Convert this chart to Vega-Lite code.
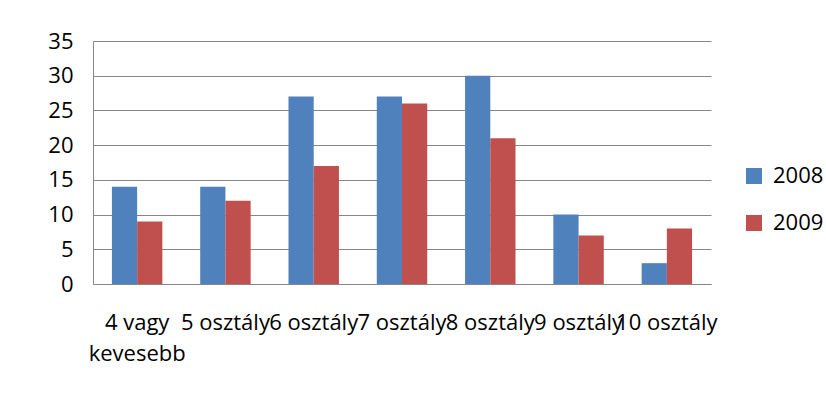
{
  "$schema": "https://vega.github.io/schema/vega-lite/v6.json",
  "autosize": "none",
  "width": 618,
  "height": 243,
  "padding": {"left": 93, "top": 41, "right": 115, "bottom": 128},
  "background": "white",
  "config": {
    "font": "Open Sans",
    "view": {"stroke": null},
    "axis": {"labelFont": "Open Sans", "labelFontSize": 22, "labelColor": "#000000"}
  },
  "data": {
    "values": [
      {"cat": "4 vagy kevesebb", "year": "2008", "value": 14},
      {"cat": "4 vagy kevesebb", "year": "2009", "value": 9},
      {"cat": "5 osztály", "year": "2008", "value": 14},
      {"cat": "5 osztály", "year": "2009", "value": 12},
      {"cat": "6 osztály", "year": "2008", "value": 27},
      {"cat": "6 osztály", "year": "2009", "value": 17},
      {"cat": "7 osztály", "year": "2008", "value": 27},
      {"cat": "7 osztály", "year": "2009", "value": 26},
      {"cat": "8 osztály", "year": "2008", "value": 30},
      {"cat": "8 osztály", "year": "2009", "value": 21},
      {"cat": "9 osztály", "year": "2008", "value": 10},
      {"cat": "9 osztály", "year": "2009", "value": 7},
      {"cat": "10 osztály", "year": "2008", "value": 3},
      {"cat": "10 osztály", "year": "2009", "value": 8}
    ]
  },
  "mark": {"type": "bar"},
  "encoding": {
    "x": {
      "field": "cat",
      "type": "nominal",
      "sort": null,
      "title": null,
      "scale": {"paddingInner": 0.4286, "paddingOuter": 0.2143},
      "axis": {
        "labelAngle": 0,
        "ticks": false,
        "domainColor": "#868686",
        "labelPadding": 28,
        "labelBaseline": "top",
        "labelLineHeight": 31,
        "labelOverlap": false,
        "labelBound": false,
        "labelExpr": "datum.value == '4 vagy kevesebb' ? ['4 vagy', 'kevesebb'] : datum.value"
      }
    },
    "xOffset": {"field": "year", "type": "nominal"},
    "y": {
      "field": "value",
      "type": "quantitative",
      "title": null,
      "scale": {"domain": [0, 35], "nice": false},
      "axis": {
        "values": [0, 5, 10, 15, 20, 25, 30, 35],
        "ticks": false,
        "domainColor": "#868686",
        "gridColor": "#868686",
        "labelPadding": 20
      }
    },
    "color": {
      "field": "year",
      "type": "nominal",
      "scale": {"domain": ["2008", "2009"], "range": ["#4F81BD", "#C0504D"]},
      "legend": {
        "title": null,
        "orient": "none",
        "legendX": 650,
        "legendY": 124,
        "symbolType": "square",
        "symbolSize": 256,
        "symbolStrokeWidth": 0,
        "labelFontSize": 22,
        "labelFont": "Open Sans",
        "labelColor": "#000000",
        "labelOffset": 8,
        "rowPadding": 25
      }
    }
  }
}
